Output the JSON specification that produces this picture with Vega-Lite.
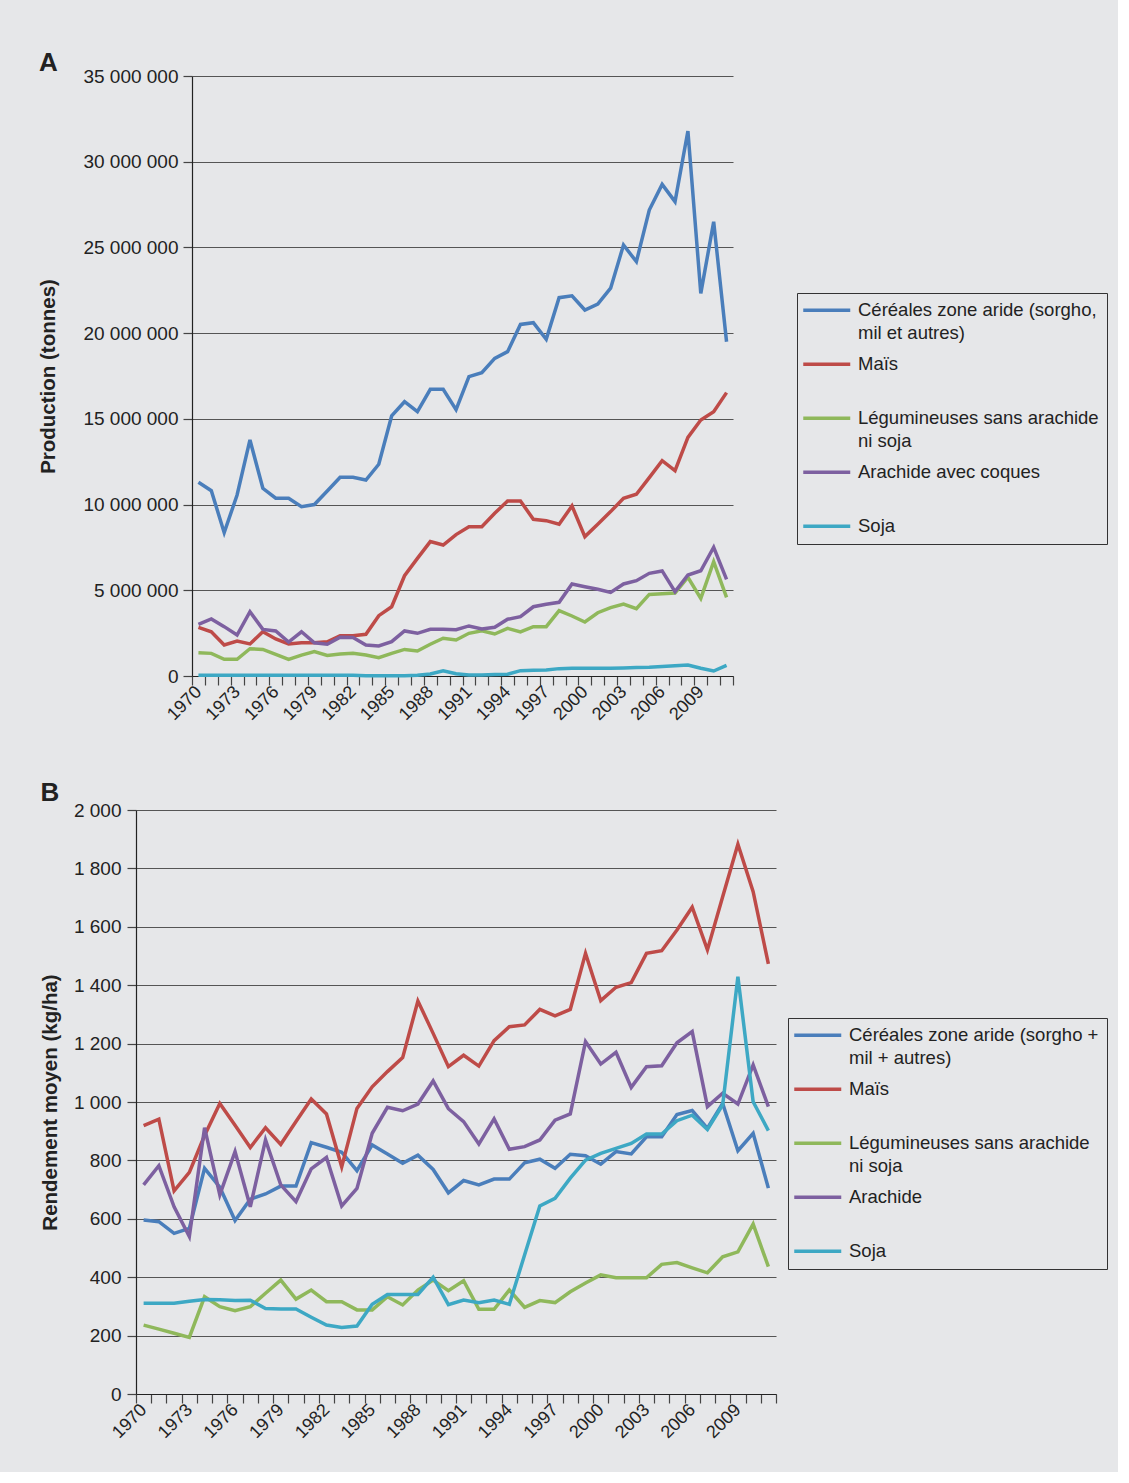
{
"$schema": "https://vega.github.io/schema/vega-lite/v6.json",
"background": "#E6E7E9",
"padding": {"left": 38, "top": 50, "right": 10, "bottom": 30},
"datasets": {
"prod": [
{"year":1970,"serie":"c","value":11300000},{"year":1971,"serie":"c","value":10810000},{"year":1972,"serie":"c","value":8360000},{"year":1973,"serie":"c","value":10560000},{"year":1974,"serie":"c","value":13770000},{"year":1975,"serie":"c","value":10950000},{"year":1976,"serie":"c","value":10370000},{"year":1977,"serie":"c","value":10370000},{"year":1978,"serie":"c","value":9880000},{"year":1979,"serie":"c","value":10000000},
{"year":1980,"serie":"c","value":10790000},{"year":1981,"serie":"c","value":11590000},{"year":1982,"serie":"c","value":11590000},{"year":1983,"serie":"c","value":11430000},{"year":1984,"serie":"c","value":12350000},{"year":1985,"serie":"c","value":15170000},{"year":1986,"serie":"c","value":16000000},{"year":1987,"serie":"c","value":15420000},{"year":1988,"serie":"c","value":16720000},{"year":1989,"serie":"c","value":16720000},
{"year":1990,"serie":"c","value":15540000},{"year":1991,"serie":"c","value":17460000},{"year":1992,"serie":"c","value":17690000},{"year":1993,"serie":"c","value":18530000},{"year":1994,"serie":"c","value":18920000},{"year":1995,"serie":"c","value":20510000},{"year":1996,"serie":"c","value":20610000},{"year":1997,"serie":"c","value":19640000},{"year":1998,"serie":"c","value":22070000},{"year":1999,"serie":"c","value":22180000},
{"year":2000,"serie":"c","value":21350000},{"year":2001,"serie":"c","value":21700000},{"year":2002,"serie":"c","value":22620000},{"year":2003,"serie":"c","value":25140000},{"year":2004,"serie":"c","value":24170000},{"year":2005,"serie":"c","value":27180000},{"year":2006,"serie":"c","value":28680000},{"year":2007,"serie":"c","value":27670000},{"year":2008,"serie":"c","value":31790000},{"year":2009,"serie":"c","value":22320000},
{"year":2010,"serie":"c","value":26500000},{"year":2011,"serie":"c","value":19500000},
{"year":1970,"serie":"m","value":2840000},{"year":1971,"serie":"m","value":2580000},{"year":1972,"serie":"m","value":1810000},{"year":1973,"serie":"m","value":2040000},{"year":1974,"serie":"m","value":1870000},{"year":1975,"serie":"m","value":2580000},{"year":1976,"serie":"m","value":2160000},{"year":1977,"serie":"m","value":1870000},{"year":1978,"serie":"m","value":1940000},{"year":1979,"serie":"m","value":1940000},
{"year":1980,"serie":"m","value":2000000},{"year":1981,"serie":"m","value":2350000},{"year":1982,"serie":"m","value":2350000},{"year":1983,"serie":"m","value":2430000},{"year":1984,"serie":"m","value":3520000},{"year":1985,"serie":"m","value":4040000},{"year":1986,"serie":"m","value":5850000},{"year":1987,"serie":"m","value":6860000},{"year":1988,"serie":"m","value":7840000},{"year":1989,"serie":"m","value":7640000},
{"year":1990,"serie":"m","value":8250000},{"year":1991,"serie":"m","value":8710000},{"year":1992,"serie":"m","value":8710000},{"year":1993,"serie":"m","value":9490000},{"year":1994,"serie":"m","value":10210000},{"year":1995,"serie":"m","value":10210000},{"year":1996,"serie":"m","value":9140000},{"year":1997,"serie":"m","value":9060000},{"year":1998,"serie":"m","value":8850000},{"year":1999,"serie":"m","value":9920000},
{"year":2000,"serie":"m","value":8130000},{"year":2001,"serie":"m","value":8850000},{"year":2002,"serie":"m","value":9590000},{"year":2003,"serie":"m","value":10370000},{"year":2004,"serie":"m","value":10600000},{"year":2005,"serie":"m","value":11570000},{"year":2006,"serie":"m","value":12560000},{"year":2007,"serie":"m","value":11980000},{"year":2008,"serie":"m","value":13920000},{"year":2009,"serie":"m","value":14930000},
{"year":2010,"serie":"m","value":15420000},{"year":2011,"serie":"m","value":16530000},
{"year":1970,"serie":"l","value":1360000},{"year":1971,"serie":"l","value":1320000},{"year":1972,"serie":"l","value":970000},{"year":1973,"serie":"l","value":970000},{"year":1974,"serie":"l","value":1590000},{"year":1975,"serie":"l","value":1550000},{"year":1976,"serie":"l","value":1260000},{"year":1977,"serie":"l","value":970000},{"year":1978,"serie":"l","value":1220000},{"year":1979,"serie":"l","value":1420000},
{"year":1980,"serie":"l","value":1200000},{"year":1981,"serie":"l","value":1280000},{"year":1982,"serie":"l","value":1320000},{"year":1983,"serie":"l","value":1220000},{"year":1984,"serie":"l","value":1070000},{"year":1985,"serie":"l","value":1320000},{"year":1986,"serie":"l","value":1550000},{"year":1987,"serie":"l","value":1460000},{"year":1988,"serie":"l","value":1850000},{"year":1989,"serie":"l","value":2200000},
{"year":1990,"serie":"l","value":2100000},{"year":1991,"serie":"l","value":2490000},{"year":1992,"serie":"l","value":2640000},{"year":1993,"serie":"l","value":2450000},{"year":1994,"serie":"l","value":2780000},{"year":1995,"serie":"l","value":2570000},{"year":1996,"serie":"l","value":2880000},{"year":1997,"serie":"l","value":2880000},{"year":1998,"serie":"l","value":3810000},{"year":1999,"serie":"l","value":3500000},
{"year":2000,"serie":"l","value":3150000},{"year":2001,"serie":"l","value":3690000},{"year":2002,"serie":"l","value":3990000},{"year":2003,"serie":"l","value":4200000},{"year":2004,"serie":"l","value":3930000},{"year":2005,"serie":"l","value":4760000},{"year":2006,"serie":"l","value":4800000},{"year":2007,"serie":"l","value":4840000},{"year":2008,"serie":"l","value":5760000},{"year":2009,"serie":"l","value":4530000},
{"year":2010,"serie":"l","value":6670000},{"year":2011,"serie":"l","value":4590000},
{"year":1970,"serie":"a","value":3010000},{"year":1971,"serie":"a","value":3330000},{"year":1972,"serie":"a","value":2880000},{"year":1973,"serie":"a","value":2390000},{"year":1974,"serie":"a","value":3750000},{"year":1975,"serie":"a","value":2720000},{"year":1976,"serie":"a","value":2630000},{"year":1977,"serie":"a","value":1980000},{"year":1978,"serie":"a","value":2580000},{"year":1979,"serie":"a","value":1940000},
{"year":1980,"serie":"a","value":1850000},{"year":1981,"serie":"a","value":2260000},{"year":1982,"serie":"a","value":2240000},{"year":1983,"serie":"a","value":1810000},{"year":1984,"serie":"a","value":1750000},{"year":1985,"serie":"a","value":2000000},{"year":1986,"serie":"a","value":2630000},{"year":1987,"serie":"a","value":2490000},{"year":1988,"serie":"a","value":2720000},{"year":1989,"serie":"a","value":2720000},
{"year":1990,"serie":"a","value":2700000},{"year":1991,"serie":"a","value":2920000},{"year":1992,"serie":"a","value":2740000},{"year":1993,"serie":"a","value":2840000},{"year":1994,"serie":"a","value":3310000},{"year":1995,"serie":"a","value":3460000},{"year":1996,"serie":"a","value":4040000},{"year":1997,"serie":"a","value":4180000},{"year":1998,"serie":"a","value":4300000},{"year":1999,"serie":"a","value":5370000},
{"year":2000,"serie":"a","value":5210000},{"year":2001,"serie":"a","value":5060000},{"year":2002,"serie":"a","value":4880000},{"year":2003,"serie":"a","value":5370000},{"year":2004,"serie":"a","value":5560000},{"year":2005,"serie":"a","value":5990000},{"year":2006,"serie":"a","value":6130000},{"year":2007,"serie":"a","value":4920000},{"year":2008,"serie":"a","value":5890000},{"year":2009,"serie":"a","value":6140000},
{"year":2010,"serie":"a","value":7510000},{"year":2011,"serie":"a","value":5640000},
{"year":1970,"serie":"s","value":40000},{"year":1971,"serie":"s","value":40000},{"year":1972,"serie":"s","value":40000},{"year":1973,"serie":"s","value":40000},{"year":1974,"serie":"s","value":40000},{"year":1975,"serie":"s","value":40000},{"year":1976,"serie":"s","value":40000},{"year":1977,"serie":"s","value":40000},{"year":1978,"serie":"s","value":40000},{"year":1979,"serie":"s","value":40000},
{"year":1980,"serie":"s","value":40000},{"year":1981,"serie":"s","value":40000},{"year":1982,"serie":"s","value":40000},{"year":1983,"serie":"s","value":20000},{"year":1984,"serie":"s","value":10000},{"year":1985,"serie":"s","value":10000},{"year":1986,"serie":"s","value":20000},{"year":1987,"serie":"s","value":40000},{"year":1988,"serie":"s","value":120000},{"year":1989,"serie":"s","value":310000},
{"year":1990,"serie":"s","value":130000},{"year":1991,"serie":"s","value":60000},{"year":1992,"serie":"s","value":60000},{"year":1993,"serie":"s","value":90000},{"year":1994,"serie":"s","value":100000},{"year":1995,"serie":"s","value":310000},{"year":1996,"serie":"s","value":330000},{"year":1997,"serie":"s","value":350000},{"year":1998,"serie":"s","value":430000},{"year":1999,"serie":"s","value":450000},
{"year":2000,"serie":"s","value":450000},{"year":2001,"serie":"s","value":450000},{"year":2002,"serie":"s","value":450000},{"year":2003,"serie":"s","value":470000},{"year":2004,"serie":"s","value":490000},{"year":2005,"serie":"s","value":510000},{"year":2006,"serie":"s","value":560000},{"year":2007,"serie":"s","value":600000},{"year":2008,"serie":"s","value":640000},{"year":2009,"serie":"s","value":450000},
{"year":2010,"serie":"s","value":290000},{"year":2011,"serie":"s","value":620000}
],
"rend": [
{"year":1970,"serie":"c","value":596},{"year":1971,"serie":"c","value":590},{"year":1972,"serie":"c","value":550},{"year":1973,"serie":"c","value":567},{"year":1974,"serie":"c","value":773},{"year":1975,"serie":"c","value":708},{"year":1976,"serie":"c","value":594},{"year":1977,"serie":"c","value":667},{"year":1978,"serie":"c","value":685},{"year":1979,"serie":"c","value":712},
{"year":1980,"serie":"c","value":712},{"year":1981,"serie":"c","value":861},{"year":1982,"serie":"c","value":845},{"year":1983,"serie":"c","value":828},{"year":1984,"serie":"c","value":765},{"year":1985,"serie":"c","value":853},{"year":1986,"serie":"c","value":822},{"year":1987,"serie":"c","value":790},{"year":1988,"serie":"c","value":818},{"year":1989,"serie":"c","value":769},
{"year":1990,"serie":"c","value":689},{"year":1991,"serie":"c","value":731},{"year":1992,"serie":"c","value":716},{"year":1993,"serie":"c","value":736},{"year":1994,"serie":"c","value":736},{"year":1995,"serie":"c","value":792},{"year":1996,"serie":"c","value":804},{"year":1997,"serie":"c","value":773},{"year":1998,"serie":"c","value":821},{"year":1999,"serie":"c","value":816},
{"year":2000,"serie":"c","value":787},{"year":2001,"serie":"c","value":830},{"year":2002,"serie":"c","value":822},{"year":2003,"serie":"c","value":881},{"year":2004,"serie":"c","value":881},{"year":2005,"serie":"c","value":957},{"year":2006,"serie":"c","value":971},{"year":2007,"serie":"c","value":910},{"year":2008,"serie":"c","value":995},{"year":2009,"serie":"c","value":833},
{"year":2010,"serie":"c","value":893},{"year":2011,"serie":"c","value":705},
{"year":1970,"serie":"m","value":919},{"year":1971,"serie":"m","value":941},{"year":1972,"serie":"m","value":696},{"year":1973,"serie":"m","value":759},{"year":1974,"serie":"m","value":885},{"year":1975,"serie":"m","value":995},{"year":1976,"serie":"m","value":920},{"year":1977,"serie":"m","value":844},{"year":1978,"serie":"m","value":912},{"year":1979,"serie":"m","value":855},
{"year":1980,"serie":"m","value":933},{"year":1981,"serie":"m","value":1010},{"year":1982,"serie":"m","value":959},{"year":1983,"serie":"m","value":778},{"year":1984,"serie":"m","value":978},{"year":1985,"serie":"m","value":1052},{"year":1986,"serie":"m","value":1104},{"year":1987,"serie":"m","value":1152},{"year":1988,"serie":"m","value":1346},{"year":1989,"serie":"m","value":1235},
{"year":1990,"serie":"m","value":1121},{"year":1991,"serie":"m","value":1160},{"year":1992,"serie":"m","value":1123},{"year":1993,"serie":"m","value":1210},{"year":1994,"serie":"m","value":1258},{"year":1995,"serie":"m","value":1264},{"year":1996,"serie":"m","value":1317},{"year":1997,"serie":"m","value":1295},{"year":1998,"serie":"m","value":1317},{"year":1999,"serie":"m","value":1509},
{"year":2000,"serie":"m","value":1347},{"year":2001,"serie":"m","value":1393},{"year":2002,"serie":"m","value":1409},{"year":2003,"serie":"m","value":1509},{"year":2004,"serie":"m","value":1518},{"year":2005,"serie":"m","value":1589},{"year":2006,"serie":"m","value":1667},{"year":2007,"serie":"m","value":1521},{"year":2008,"serie":"m","value":1703},{"year":2009,"serie":"m","value":1883},
{"year":2010,"serie":"m","value":1720},{"year":2011,"serie":"m","value":1473},
{"year":1970,"serie":"l","value":236},{"year":1971,"serie":"l","value":222},{"year":1972,"serie":"l","value":208},{"year":1973,"serie":"l","value":194},{"year":1974,"serie":"l","value":333},{"year":1975,"serie":"l","value":299},{"year":1976,"serie":"l","value":285},{"year":1977,"serie":"l","value":299},{"year":1978,"serie":"l","value":345},{"year":1979,"serie":"l","value":390},
{"year":1980,"serie":"l","value":325},{"year":1981,"serie":"l","value":356},{"year":1982,"serie":"l","value":316},{"year":1983,"serie":"l","value":316},{"year":1984,"serie":"l","value":288},{"year":1985,"serie":"l","value":288},{"year":1986,"serie":"l","value":333},{"year":1987,"serie":"l","value":305},{"year":1988,"serie":"l","value":356},{"year":1989,"serie":"l","value":390},
{"year":1990,"serie":"l","value":354},{"year":1991,"serie":"l","value":388},{"year":1992,"serie":"l","value":290},{"year":1993,"serie":"l","value":290},{"year":1994,"serie":"l","value":356},{"year":1995,"serie":"l","value":297},{"year":1996,"serie":"l","value":320},{"year":1997,"serie":"l","value":313},{"year":1998,"serie":"l","value":350},{"year":1999,"serie":"l","value":380},
{"year":2000,"serie":"l","value":408},{"year":2001,"serie":"l","value":398},{"year":2002,"serie":"l","value":398},{"year":2003,"serie":"l","value":398},{"year":2004,"serie":"l","value":444},{"year":2005,"serie":"l","value":450},{"year":2006,"serie":"l","value":432},{"year":2007,"serie":"l","value":415},{"year":2008,"serie":"l","value":470},{"year":2009,"serie":"l","value":487},
{"year":2010,"serie":"l","value":582},{"year":2011,"serie":"l","value":436},
{"year":1970,"serie":"a","value":716},{"year":1971,"serie":"a","value":782},{"year":1972,"serie":"a","value":641},{"year":1973,"serie":"a","value":539},{"year":1974,"serie":"a","value":912},{"year":1975,"serie":"a","value":682},{"year":1976,"serie":"a","value":830},{"year":1977,"serie":"a","value":641},{"year":1978,"serie":"a","value":870},{"year":1979,"serie":"a","value":716},
{"year":1980,"serie":"a","value":659},{"year":1981,"serie":"a","value":771},{"year":1982,"serie":"a","value":810},{"year":1983,"serie":"a","value":644},{"year":1984,"serie":"a","value":704},{"year":1985,"serie":"a","value":893},{"year":1986,"serie":"a","value":982},{"year":1987,"serie":"a","value":970},{"year":1988,"serie":"a","value":993},{"year":1989,"serie":"a","value":1072},
{"year":1990,"serie":"a","value":977},{"year":1991,"serie":"a","value":933},{"year":1992,"serie":"a","value":856},{"year":1993,"serie":"a","value":942},{"year":1994,"serie":"a","value":838},{"year":1995,"serie":"a","value":847},{"year":1996,"serie":"a","value":870},{"year":1997,"serie":"a","value":938},{"year":1998,"serie":"a","value":959},{"year":1999,"serie":"a","value":1207},
{"year":2000,"serie":"a","value":1130},{"year":2001,"serie":"a","value":1170},{"year":2002,"serie":"a","value":1050},{"year":2003,"serie":"a","value":1121},{"year":2004,"serie":"a","value":1124},{"year":2005,"serie":"a","value":1203},{"year":2006,"serie":"a","value":1241},{"year":2007,"serie":"a","value":984},{"year":2008,"serie":"a","value":1030},{"year":2009,"serie":"a","value":993},
{"year":2010,"serie":"a","value":1127},{"year":2011,"serie":"a","value":984},
{"year":1970,"serie":"s","value":311},{"year":1971,"serie":"s","value":311},{"year":1972,"serie":"s","value":311},{"year":1973,"serie":"s","value":318},{"year":1974,"serie":"s","value":324},{"year":1975,"serie":"s","value":323},{"year":1976,"serie":"s","value":320},{"year":1977,"serie":"s","value":321},{"year":1978,"serie":"s","value":293},{"year":1979,"serie":"s","value":291},
{"year":1980,"serie":"s","value":291},{"year":1981,"serie":"s","value":263},{"year":1982,"serie":"s","value":236},{"year":1983,"serie":"s","value":228},{"year":1984,"serie":"s","value":233},{"year":1985,"serie":"s","value":307},{"year":1986,"serie":"s","value":341},{"year":1987,"serie":"s","value":341},{"year":1988,"serie":"s","value":341},{"year":1989,"serie":"s","value":400},
{"year":1990,"serie":"s","value":306},{"year":1991,"serie":"s","value":322},{"year":1992,"serie":"s","value":313},{"year":1993,"serie":"s","value":322},{"year":1994,"serie":"s","value":307},{"year":1995,"serie":"s","value":476},{"year":1996,"serie":"s","value":644},{"year":1997,"serie":"s","value":670},{"year":1998,"serie":"s","value":739},{"year":1999,"serie":"s","value":801},
{"year":2000,"serie":"s","value":824},{"year":2001,"serie":"s","value":841},{"year":2002,"serie":"s","value":858},{"year":2003,"serie":"s","value":890},{"year":2004,"serie":"s","value":890},{"year":2005,"serie":"s","value":936},{"year":2006,"serie":"s","value":955},{"year":2007,"serie":"s","value":906},{"year":2008,"serie":"s","value":990},{"year":2009,"serie":"s","value":1429},
{"year":2010,"serie":"s","value":1001},{"year":2011,"serie":"s","value":902}
]
},
"spacing": 56,
"vconcat": [
{"hconcat": [
{"width": 1, "height": 1, "data": {"values": []}, "mark": "point"},
{
"data": {"name": "prod"},
"width": 541,
"height": 600,
"title": {"text": "A", "offset": -9},
"mark": {"type": "line", "strokeWidth": 3.5},
"encoding": {
"x": {"field": "year", "type": "ordinal", "scale": {"type": "band", "paddingInner": 0, "paddingOuter": 0},
"axis": {"title": null, "tickBand": "extent", "labelAngle": -45, "labelAlign": "right", "labelBaseline": "middle", "labelOverlap": false, "labelPadding": 4, "tickSize": 9, "labelExpr": "(datum.value - 1970) % 3 == 0 ? datum.label : ''"}},
"y": {"field": "value", "type": "quantitative", "scale": {"domain": [0, 35000000], "nice": false},
"axis": {"title": "Production (tonnes)", "values": [0, 5000000, 10000000, 15000000, 20000000, 25000000, 30000000, 35000000], "labelExpr": "replace(format(datum.value, ','), regexp(',', 'g'), ' ')", "titlePadding": 24, "labelPadding": 5, "tickSize": 9}},
"color": {"field": "serie", "type": "nominal",
"scale": {"domain": ["c", "m", "l", "a", "s"], "range": ["#4A7EBB", "#BE4B48", "#8FB85B", "#7D60A0", "#3DA8C4"]},
"legend": {"orient": "none", "legendX": 661, "legendY": 217,
"labelExpr": "datum.label == 'c' ? ['Céréales zone aride (sorgho,', 'mil et autres)'] : datum.label == 'm' ? 'Maïs' : datum.label == 'l' ? ['Légumineuses sans arachide', 'ni soja'] : datum.label == 'a' ? 'Arachide avec coques' : 'Soja'",
"encode": {"labels": {"update": {"lineHeight": {"value": 23}}}}}}
}
}
], "spacing": 55, "bounds": "flush"},
{
"data": {"name": "rend"},
"width": 640,
"height": 584,
"title": {"text": "B", "offset": -5},
"mark": {"type": "line", "strokeWidth": 3.5},
"encoding": {
"x": {"field": "year", "type": "ordinal", "scale": {"type": "band", "paddingInner": 0, "paddingOuter": 0},
"axis": {"title": null, "tickBand": "extent", "labelAngle": -45, "labelAlign": "right", "labelBaseline": "middle", "labelOverlap": false, "labelPadding": 4, "tickSize": 9, "labelExpr": "(datum.value - 1970) % 3 == 0 ? datum.label : ''"}},
"y": {"field": "value", "type": "quantitative", "scale": {"domain": [0, 2000], "nice": false},
"axis": {"title": "Rendement moyen (kg/ha)", "values": [0, 200, 400, 600, 800, 1000, 1200, 1400, 1600, 1800, 2000], "labelExpr": "replace(format(datum.value, ','), regexp(',', 'g'), ' ')", "titlePadding": 13, "labelPadding": 6, "tickSize": 9}},
"color": {"field": "serie", "type": "nominal",
"scale": {"domain": ["c", "m", "l", "a", "s"], "range": ["#4A7EBB", "#BE4B48", "#8FB85B", "#7D60A0", "#3DA8C4"]},
"legend": {"orient": "none", "legendX": 652, "legendY": 208,
"labelExpr": "datum.label == 'c' ? ['Céréales zone aride (sorgho +', 'mil + autres)'] : datum.label == 'm' ? 'Maïs' : datum.label == 'l' ? ['Légumineuses sans arachide', 'ni soja'] : datum.label == 'a' ? 'Arachide' : 'Soja'",
"encode": {"labels": {"update": {"lineHeight": {"value": 23}}}}}}
}
}
],
"resolve": {"scale": {"color": "independent"}, "legend": {"color": "independent"}},
"config": {
"font": "Liberation Sans",
"view": {"stroke": null},
"axis": {"labelFont": "Liberation Sans", "labelFontSize": 19, "labelColor": "#222", "titleFont": "Liberation Sans", "titleFontSize": 20.5, "titleFontWeight": "bold", "titleColor": "#222", "domainColor": "#222", "domainWidth": 1.2, "tickColor": "#444", "tickWidth": 1.2, "gridColor": "#555", "gridWidth": 1.2},
"axisX": {"grid": false, "labelFontSize": 18},
"axisY": {"grid": true},
"legend": {"title": null, "symbolType": "M-4.7,0H4.7", "symbolSize": 100, "symbolOffset": 12.5, "symbolStrokeWidth": 3.5, "labelFont": "Liberation Sans", "labelFontSize": 18.5, "labelColor": "#222", "labelLimit": 400, "labelOffset": 22, "padding": 8, "rowPadding": 12, "strokeColor": "#333", "gridAlign": "all"},
"title": {"fontSize": 26, "fontWeight": "bold", "anchor": "start", "frame": "bounds", "color": "#222", "font": "Liberation Sans"}
}
}
